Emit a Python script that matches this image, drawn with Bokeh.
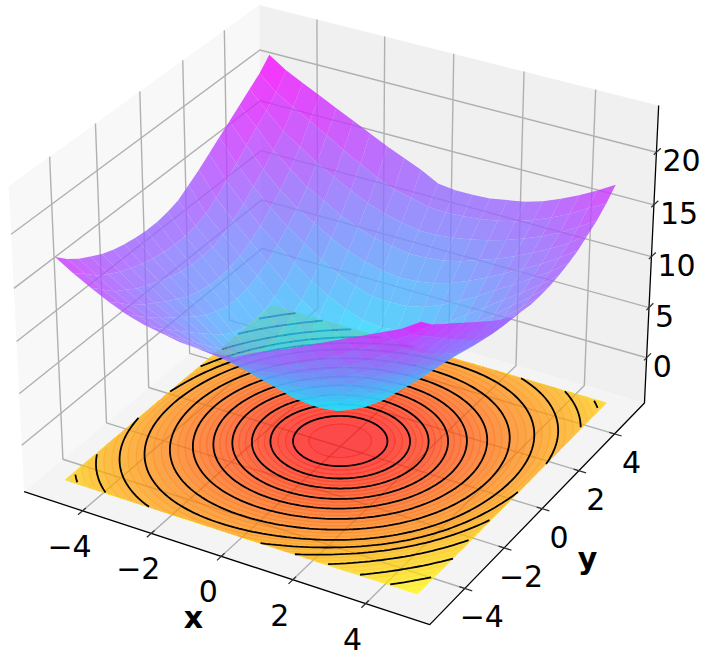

import numpy as np
from bokeh.plotting import figure
from bokeh.embed import file_html
from bokeh.resources import INLINE
from bokeh.core.properties import value

# ---- values ----
TICKS=[-4,-2,0,2,4]
Z_TICKS=[0,5,10,15,20]
GRID=[-5,-4.5,-4,-3.5,-3,-2.5,-2,-1.5,-1,-0.5,0,0.5,1,1.5,2,2.5,3,3.5,4,4.5,5]
Z_HALF=[
[17.4,16.4,15.6,15.0,14.4,14.0,13.7,13.5,13.4,13.4,13.6,13.9,14.6,15.3,16.1,16.9,17.7,18.5,19.3,20.1,21.2],
[16.4,15.5,14.5,13.8,13.2,12.7,12.3,12.0,11.8,11.7,11.7,11.9,12.3,13.0,13.9,14.8,15.8,16.8,17.7,18.7,20.1],
[15.5,14.5,13.5,12.8,12.1,11.6,11.1,10.7,10.4,10.2,10.2,10.3,10.7,11.3,12.1,13.0,13.9,15.0,16.1,17.7,19.3],
[14.7,13.7,12.7,11.9,11.2,10.5,9.9,9.3,8.9,8.7,8.6,8.8,9.1,9.7,10.4,11.4,12.3,13.6,15.0,16.8,18.5],
[14.0,13.0,12.0,11.1,10.3,9.5,8.7,8.0,7.5,7.1,7.0,7.2,7.6,8.2,9.0,10.0,11.0,12.3,13.9,15.8,17.7],
[13.5,12.4,11.4,10.4,9.4,8.4,7.5,6.6,5.9,5.5,5.4,5.5,6.0,6.7,7.7,8.8,10.0,11.4,13.0,14.8,16.9],
[13.2,12.0,10.9,9.8,8.6,7.5,6.3,5.3,4.5,4.0,3.8,4.0,4.6,5.4,6.4,7.7,9.0,10.4,12.1,13.9,16.1],
[12.9,11.7,10.5,9.2,7.9,6.6,5.3,4.2,3.1,2.5,2.3,2.5,3.1,4.2,5.4,6.7,8.2,9.7,11.3,13.0,15.3],
[12.8,11.5,10.2,8.8,7.4,5.9,4.5,3.1,2.1,1.3,1.1,1.3,2.1,3.1,4.6,6.0,7.6,9.1,10.7,12.3,14.6],
[12.8,11.4,10.0,8.6,7.1,5.5,4.0,2.5,1.3,0.5,0.0,0.5,1.3,2.5,4.0,5.5,7.2,8.8,10.3,11.9,13.9],
[13.0,11.5,10.0,8.5,7.0,5.4,3.8,2.3,1.1,0.0,-0.4,0.0,1.1,2.3,3.8,5.4,7.0,8.5,10.0,11.5,13.0],
]
BLACK_R=[1.19,1.76,2.22,2.7,3.15,3.63,4.13,4.63,5.05,5.45,5.92,6.54,7.2,7.85]
BLACK_UP=[0,0,.005,.01,.02,.03,.05,.08,.12,.15,.15,.15,.15,.15]
BLACK_LOW=[0,0,0,.005,.01,.015,.02,.03,.05,.07,.08,.09,.1,.1]
FILL_R=[.79,1.19,1.38,1.57,1.76,1.91,2.07,2.22,2.38,2.54,2.7,2.85,3.0,3.15,3.31,3.47,3.63,3.8,3.96,4.13,4.3,4.46,4.63,4.77,4.91,5.05,5.18,5.32,5.45,5.61,5.76,5.92,6.13,6.33,6.54,6.76,6.98,7.2,7.42,7.63,7.85,8.6]
FLOOR_Z=-4.0

W,H=701,657
XL=5.5; PL=5.5*(1+1/24)
ZLO=-4.0; ZHI=23.8
dz=(ZHI-ZLO)/48; ZPLO=ZLO-dz; ZPHI=ZHI+dz

k=1.8294640721620434*25/24/np.linalg.norm([4,4,3])
box=np.array([4,4,3])*k
el,az=np.radians(30),np.radians(-60)
Rc=box/2
E=Rc+10*np.array([np.cos(el)*np.cos(az),np.cos(el)*np.sin(az),np.sin(el)])
w=(E-Rc)/np.linalg.norm(E-Rc); u=np.cross([0,0,1],w); u/=np.linalg.norm(u); v=np.cross(w,u)
def raw(x,y,z):
    x,y,z=np.asarray(x,float),np.asarray(y,float),np.asarray(z,float)
    X=(x+XL)/(2*XL)*box[0]; Y=(y+XL)/(2*XL)*box[1]; Z=(z-ZLO)/(ZHI-ZLO)*box[2]
    d=np.stack([X-E[0],Y-E[1],Z-E[2]],-1)
    a=d@u; b=d@v; c=d@w
    return a/(-c),b/(-c),c
cal=[(-1,-1,0,22,490),(1,-1,0,430,625),(1,1,0,645,403),(-1,-1,1,10,185),(-1,1,1,258,5),(1,1,1,657,105)]
cx=[];cy=[];tx=[];ty=[]
for a,b,c,qx,qy in cal:
    xp,yp,_=raw(a*PL,b*PL,ZPHI if c else ZPLO)
    cx.append(xp);cy.append(yp);tx.append(qx);ty.append(qy)
Ax,Bx=np.polyfit(cx,tx,1);Ay,By=np.polyfit(cy,ty,1)
def P(x,y,z):
    a,b,c=raw(x,y,z)
    return Ax*a+Bx,Ay*b+By

p=figure(width=W,height=H,x_range=(0,W),y_range=(H,0),output_backend="svg",toolbar_location=None,min_border=0)
p.axis.visible=False;p.grid.visible=False;p.outline_line_color=None
p.styles={"position":"absolute","left":"0px","top":"0px"}

def pane(c,col):
    xs,ys=P(*c); p.patch(list(xs),list(ys),fill_color=col,line_color=None)
pane(([-PL,-PL,-PL,-PL],[-PL,PL,PL,-PL],[ZPLO,ZPLO,ZPHI,ZPHI]),"#f8f8f8")
pane(([-PL,PL,PL,-PL],[PL,PL,PL,PL],[ZPLO,ZPLO,ZPHI,ZPHI]),"#f0f0f0")
pane(([-PL,PL,PL,-PL],[-PL,-PL,PL,PL],[ZPLO]*4,),"#f4f4f4")
def ln(x,y,z,c="#b0b0b0",lw=1.4):
    xs,ys=P(x,y,z); p.line(list(xs),list(ys),line_color=c,line_width=lw)
for t in TICKS:
    ln([t,t,t],[-PL,PL,PL],[ZPLO,ZPLO,ZPHI])
    ln([-PL,-PL,PL],[t,t,t],[ZPHI,ZPLO,ZPLO])
for t in Z_TICKS:
    ln([-PL,-PL,PL],[-PL,PL,PL],[t,t,t])
ln([-PL,PL,PL,PL],[-PL,-PL,PL,PL],[ZPLO,ZPLO,ZPLO,ZPHI],"#000000",1.3)
for t in TICKS:
    ln([t,t],[-PL+0.15,-PL-0.2],[ZPLO,ZPLO],"#333333",1.3)
    ln([PL-0.15,PL+0.2],[t,t],[ZPLO,ZPLO],"#333333",1.3)
for t in Z_TICKS:
    ln([PL,PL],[PL-0.15,PL+0.25],[t,t],"#333333",1.3)

th=np.linspace(0,2*np.pi,241)
s_=np.sin(2*th-np.radians(12))
def ring(rad):
    up=np.interp(rad,BLACK_R,BLACK_UP); low=np.interp(rad,BLACK_R,BLACK_LOW)
    r=rad*(1+(up+low)/2*s_+(up-low)/2*s_*s_)
    return r*np.cos(th),r*np.sin(th)
def fl(a,b):
    return P(a,b,np.full_like(a,FLOOR_Z))
allr=[0.0]+FILL_R
xs=[];ys=[];cols=[]
for i in range(len(FILL_R)):
    t=i/(len(FILL_R)-1)
    a,b=ring(allr[i+1]); qx,qy=fl(np.clip(a,-5,5),np.clip(b,-5,5))
    lx=[list(qx)]; ly=[list(qy)]
    if i>0:
        a,b=ring(allr[i]); rx,ry=fl(np.clip(a,-5,5),np.clip(b,-5,5))
        lx.append(list(rx)); ly.append(list(ry))
    xs.append([lx]); ys.append([ly])
    cols.append("#%02x%02x00"%(255,int(255*t)))
p.multi_polygons(xs,ys,fill_color=cols,fill_alpha=0.7,line_color=None)
for i,rr in enumerate(FILL_R):
    a,b=ring(rr); m=(np.abs(a)<=5)&(np.abs(b)<=5)
    qx,qy=fl(np.where(m,a,np.nan),np.where(m,b,np.nan))
    p.line(list(qx),list(qy),line_color=cols[i],line_alpha=0.6,line_width=1.0)
for rr in BLACK_R:
    a,b=ring(rr); m=(np.abs(a)<=5)&(np.abs(b)<=5)
    qx,qy=fl(np.where(m,a,np.nan),np.where(m,b,np.nan))
    p.line(list(qx),list(qy),line_color="black",line_width=1.8)

# surface
half=np.array(Z_HALF)
Z=np.vstack([half,half[:-1][::-1,::-1]])
X,Y=np.meshgrid(GRID,GRID,indexing="ij")
px,py=P(X,Y,Z)
_,_,dep=raw(X,Y,Z)
n=len(GRID)-1
qs=[]
zmin,zmax=Z.min(),Z.max()
for i in range(n):
    for j in range(n):
        qs.append((dep[i:i+2,j:j+2].mean(),i,j))
qs.sort()
sx=[];sy=[];sc=[]
for d,i,j in qs:
    sx.append([px[i,j],px[i+1,j],px[i+1,j+1],px[i,j+1]])
    sy.append([py[i,j],py[i+1,j],py[i+1,j+1],py[i,j+1]])
    t=(Z[i:i+2,j:j+2].mean()-zmin)/(zmax-zmin)
    sc.append("#%02x%02xff"%(int(255*t),int(255*(1-t))))
p.patches(sx,sy,fill_color=sc,fill_alpha=0.8,line_color=None)

def lab(x,y,s,bold=False,align="center"):
    p.text([x],[y],text=[s],text_font=value("DejaVu Sans"),text_font_size="30px",text_align=align,text_baseline="middle",text_color="black",text_font_style="bold" if bold else "normal")
M="\u2212"
for t in TICKS:
    s=(M+str(-t)) if t<0 else str(t)
    a,b=P(t,-PL,ZPLO); lab(float(a)-13,float(b)+35,s)
    a,b=P(PL,t,ZPLO); lab(float(a)+17,float(b)+28,s)
for t in Z_TICKS:
    a,b=P(PL,PL,t); lab(float(a)+6,float(b)+8,str(t),align="left")
lab(193,617,"x",True);lab(587,558,"y",True)
open("out.html","w").write(file_html(p,INLINE))
